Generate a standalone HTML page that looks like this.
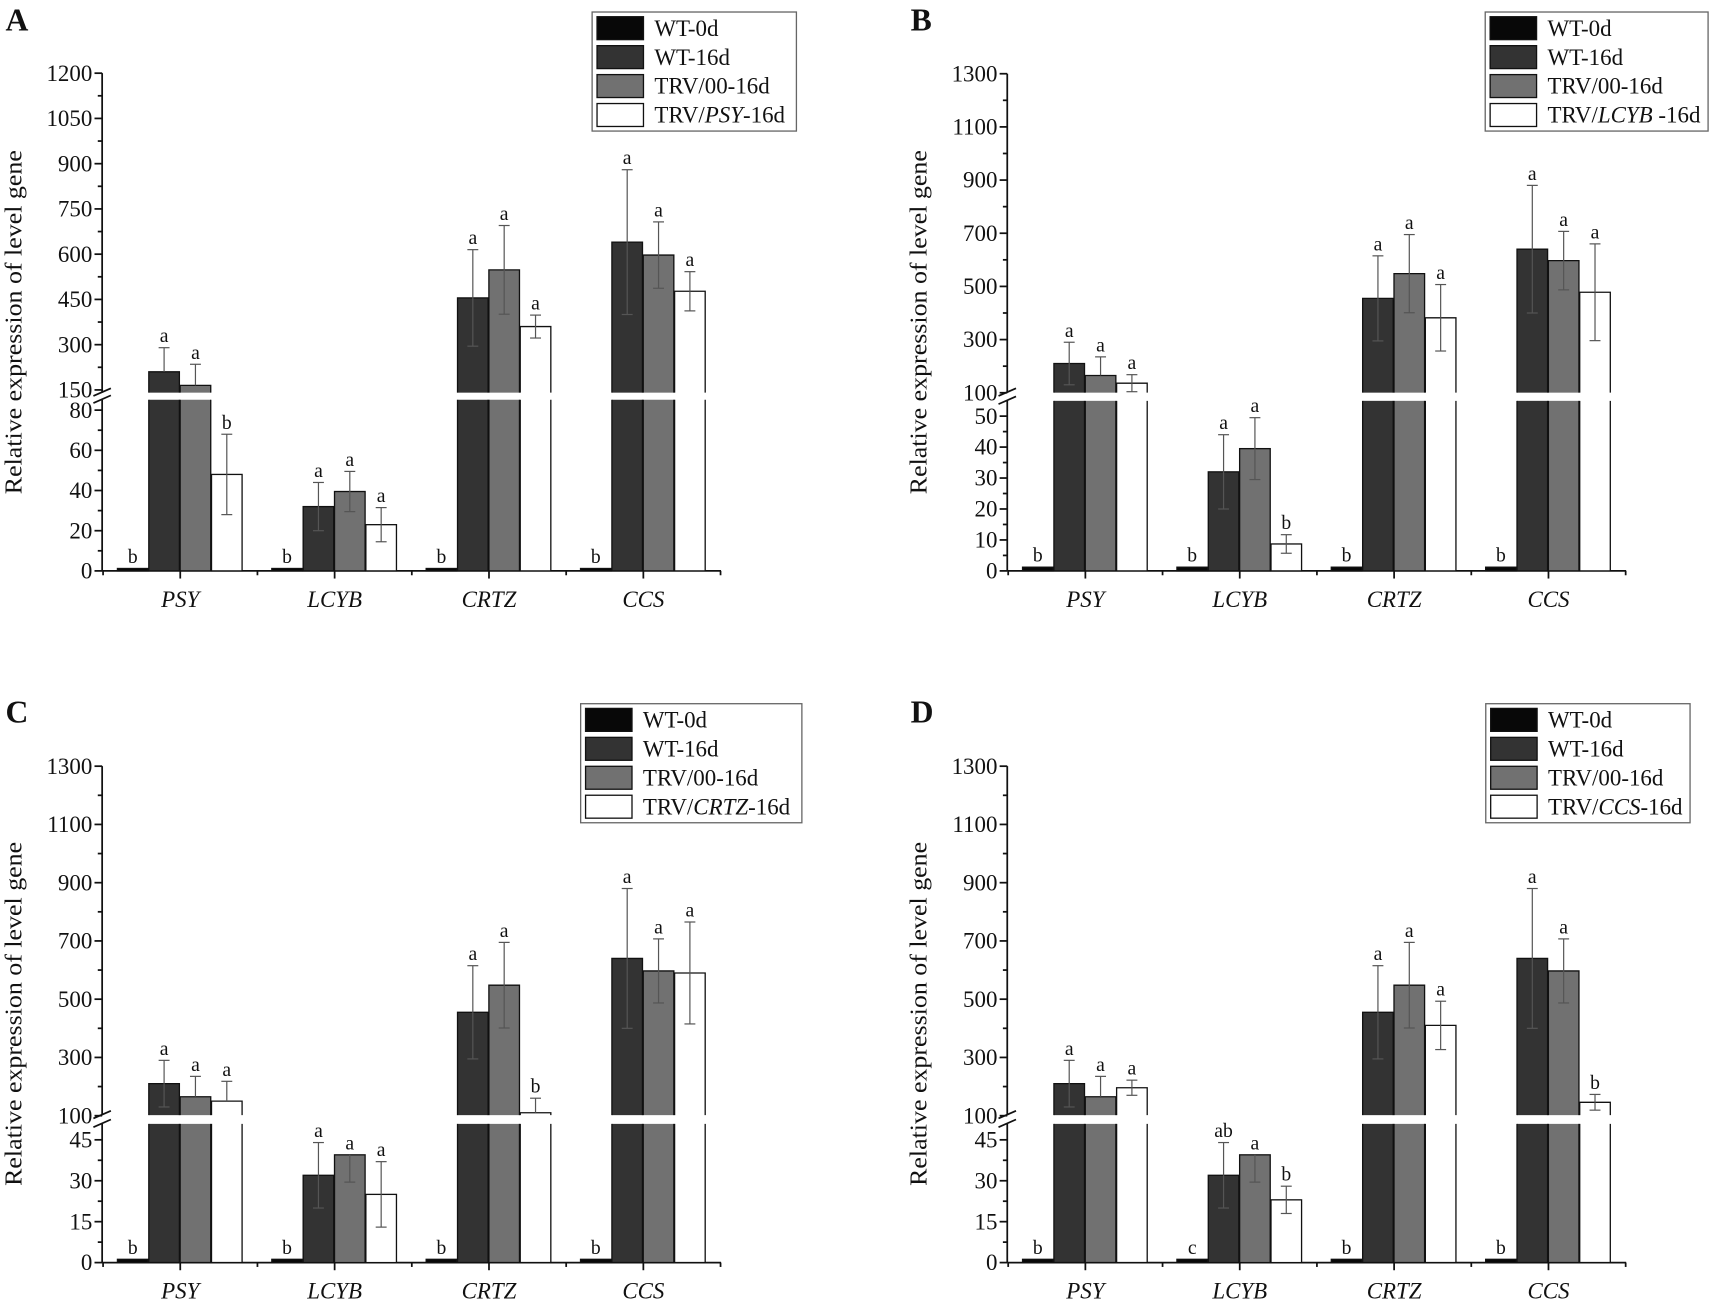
<!DOCTYPE html>
<html><head><meta charset="utf-8"><style>
html,body{margin:0;padding:0;background:#fff;}
svg{display:block;}
text{font-family:"Liberation Serif",serif;fill:#111;}
</style></head>
<body>
<svg id="fig" xmlns="http://www.w3.org/2000/svg" width="1713" height="1303" viewBox="0 0 1568 1193" preserveAspectRatio="none"></svg>
<script>
const genes = ['PSY','LCYB','CRTZ','CCS'];
const seriesNames = ['WT-0d','WT-16d','TRV/00-16d'];
const wt0 = [1.2,1.2,1.2,1.2];
const wt0Err = [0,0,0,0];
const wt16 = [210,32,455,640];
const wt16Err = [80,12,160,240];
const trv00 = [165,39.5,548,597];
const trv00Err = [70,10,147,110];
const silA = [48,23,360,477];
const silAErr = [20,8.5,38,65];
const silB = [136,8.7,382,478];
const silBErr = [32,3,125,182];
const silC = [150,25,110,590];
const silCErr = [68,12,50,175];
const silD = [196,23,410,146];
const silDErr = [26,5,83,27];
const lettersWt0A = ['b','b','b','b'];
const lettersWt0D = ['b','c','b','b'];
const lettersWt16 = ['a','a','a','a'];
const lettersWt16D = ['a','ab','a','a'];
const lettersTrv = ['a','a','a','a'];
const lettersSilA = ['b','a','a','a'];
const lettersSilB = ['a','b','a','a'];
const lettersSilC = ['a','a','b','a'];
const lettersSilD = ['a','b','a','b'];
const upperTicksA = [150,300,450,600,750,900,1050,1200];
const lowerTicksA = [0,20,40,60,80];
const upperTicksB = [100,300,500,700,900,1100,1300];
const lowerTicksB = [0,10,20,30,40,50];
const lowerTicksCD = [0,15,30,45];

const NS='http://www.w3.org/2000/svg';
const svg=document.getElementById('fig');
function mk(tag,attrs,parent){const e=document.createElementNS(NS,tag);for(const k in attrs)e.setAttribute(k,attrs[k]);(parent||svg).appendChild(e);return e;}

const fills=['#080808','#333333','#717171','#ffffff'];

function panel(cfg){
  const g=mk('g',{transform:`translate(${cfg.ox},${cfg.oy})`});
  
  
  const ax=93.5, base=522.7, xEnd=ax+566.5;
  const U=cfg.upper, L=cfg.lower;
  const yU=v=>U.p0+(v-U.v0)*(U.p1-U.p0)/(U.v1-U.v0);
  const yL=v=>base+(v)*(L.p1-base)/L.v1;
  const pl=mk('text',{x:5,y:28,'font-size':29,'font-weight':'bold'},g);pl.textContent=cfg.id;
  
  
  const yt=mk('text',{x:0,y:0,'font-size':22,'text-anchor':'middle',textLength:315,lengthAdjust:'spacingAndGlyphs',transform:`translate(${ax-74},295) rotate(-90)`},g);
  yt.textContent='Relative expression of level gene';
  
  
  const axisG=mk('g',{stroke:'#111','stroke-width':1.6,fill:'none'},g);
  
  
  mk('line',{x1:ax,y1:yU(U.ticks[U.ticks.length-1]),x2:ax,y2:U.bottom},axisG);
  mk('line',{x1:ax,y1:base,x2:ax,y2:L.top},axisG);
  mk('line',{x1:ax,y1:base,x2:xEnd,y2:base},axisG);
  mk('line',{x1:ax-8,y1:U.bottom+3,x2:ax+8,y2:U.bottom-4},axisG);
  mk('line',{x1:ax-8,y1:L.top+3,x2:ax+8,y2:L.top-4},axisG);
  const tickSet=(ticks,yf,minStep,top)=>{
    ticks.forEach((t,i)=>{
      const y=yf(t);
      mk('line',{x1:ax-7,y1:y,x2:ax,y2:y},axisG);
      const tl=mk('text',{x:ax-9,y:y+7,'font-size':21,'text-anchor':'end',stroke:'none'},g);
      tl.textContent=t;
      
      
      const ym=yf(t+minStep); if(ym>top) mk('line',{x1:ax-4,y1:ym,x2:ax,y2:ym},axisG);
    });
  };
  const uStep=U.ticks[1]-U.ticks[0];
  tickSet(U.ticks,yU,uStep/2,yU(U.ticks[U.ticks.length-1])-1);
  const lStep=L.ticks[1]-L.ticks[0];
  tickSet(L.ticks,yL,lStep/2,L.top);
  const gap=141.3, c0=ax+71.5;
  genes.forEach((gn,gi)=>{
    const c=c0+gi*gap;
    mk('line',{x1:c,y1:base,x2:c,y2:base+7},axisG);
    mk('line',{x1:c+gap/2,y1:base,x2:c+gap/2,y2:base+4},axisG);
    const xl=mk('text',{x:c,y:base+33,'font-size':21,'font-style':'italic','text-anchor':'middle'},g);
    xl.textContent=gn;
    
    
  });
  mk('line',{x1:c0-gap/2,y1:base,x2:c0-gap/2,y2:base+4},axisG);
  const series=[[wt0,wt0Err,cfg.l0],[wt16,wt16Err,cfg.l16],[trv00,trv00Err,lettersTrv],[cfg.sil,cfg.silErr,cfg.lSil]];
  const barsG=mk('g',{},g);
  
  
  series.forEach((s,si)=>{
    const [vals,errs,lets]=s;
    vals.forEach((v,gi)=>{
      const x=c0+gi*gap-57.5+si*28.7, w=28;
      const broken = yL(v)<L.top;
      const lowTopY=Math.max(yL(v),L.top);
      if(!broken){
        const r=mk('rect',{x:x,y:lowTopY,width:w,height:base-lowTopY,fill:fills[si],stroke:'#111','stroke-width':1.2},barsG);
        
        
      } else {
        const r=mk('rect',{x:x,y:lowTopY,width:w,height:base-lowTopY,fill:fills[si]},barsG);
        
        
        mk('path',{d:`M${x},${lowTopY}V${base}H${x+w}V${lowTopY}`,fill:'none',stroke:'#111','stroke-width':1.2},barsG);
      }
      let topY=lowTopY;
      if(yU(v)<U.bottom){
        topY=yU(v);
        const r2=mk('rect',{x:x,y:topY,width:w,height:U.bottom-topY,fill:fills[si]},barsG);
        
        
        mk('path',{d:`M${x},${U.bottom}V${topY}H${x+w}V${U.bottom}`,fill:'none',stroke:'#111','stroke-width':1.2},barsG);
      }
      const e=errs[gi];
      const yOf=val=>{ if(val<=L.v1 && yL(val)>=L.top) return yL(val); const yu=yU(val); if(yu<U.bottom) return yu; return null; };
      let capTop=topY;
      if(e>0){
        const cx=x+w/2, yt=yOf(v+e), yb=yOf(v-e);
        const eg=mk('g',{stroke:'#555','stroke-width':1.1},barsG);
        
        
        if(yt!==null){mk('line',{x1:cx,y1:topY,x2:cx,y2:yt},eg);mk('line',{x1:cx-5,y1:yt,x2:cx+5,y2:yt},eg);capTop=yt;}
        if(yb!==null){
          const inUpper = yU(v)<U.bottom;
          const ybShow = (inUpper && yU(v-e)>=U.bottom)? null : yb;
          if(ybShow!==null){mk('line',{x1:cx,y1:topY,x2:cx,y2:ybShow},eg);mk('line',{x1:cx-5,y1:ybShow,x2:cx+5,y2:ybShow},eg);}
          else mk('line',{x1:cx,y1:topY,x2:cx,y2:U.bottom},eg);
        }
      }
      const lt=mk('text',{x:x+w/2,y:capTop-5,'font-size':18,'text-anchor':'middle'},barsG);
      lt.textContent=lets[gi];
      
      
    });
  });
  const lg=mk('g',{transform:`translate(${cfg.lx},${cfg.ly})`},g);
  
  
  mk('rect',{x:0,y:0,width:cfg.lw,height:109,fill:'#fff',stroke:'#666','stroke-width':1.2},lg);
  const names=seriesNames.concat([null]);
  names.forEach((n,i)=>{
    const cy=14.8+i*26.5;
    const sw=mk('rect',{x:4.5,y:cy-10.5,width:42.5,height:21,fill:fills[i],stroke:'#111','stroke-width':1.2},lg);
    
    
    const t=mk('text',{x:57,y:cy+7,'font-size':21},lg);
    
    
    if(n){t.textContent=n;}
    else{
      const a=mk('tspan',{},t);a.textContent='TRV/';
      const b=mk('tspan',{'font-style':'italic'},t);b.textContent=cfg.gene;
      const c=mk('tspan',{},t);c.textContent=cfg.gap?' -16d':'-16d';
    }
  });
}

panel({id:'A',ox:0,oy:0,gene:'PSY',sil:silA,silErr:silAErr,lSil:lettersSilA,l0:lettersWt0A,l16:lettersWt16,
  upper:{v0:150,p0:357,v1:1200,p1:67,bottom:359.5,ticks:upperTicksA},
  lower:{v1:80,p1:375.5,top:366,ticks:lowerTicksA},lx:542,ly:11,lw:187});
panel({id:'B',ox:828.5,oy:0,gene:'LCYB',gap:true,sil:silB,silErr:silBErr,lSil:lettersSilB,l0:lettersWt0A,l16:lettersWt16,
  upper:{v0:100,p0:359.6,v1:1300,p1:67.5,bottom:359.5,ticks:upperTicksB},
  lower:{v1:50,p1:381,top:367,ticks:lowerTicksB},lx:531,ly:11,lw:204});
panel({id:'C',ox:0,oy:633.3,gene:'CRTZ',sil:silC,silErr:silCErr,lSil:lettersSilC,l0:lettersWt0A,l16:lettersWt16,
  upper:{v0:100,p0:388.2,v1:1300,p1:68.2,bottom:387.7,ticks:upperTicksB},
  lower:{v1:45,p1:410.3,top:395.7,ticks:lowerTicksCD},lx:531.5,ly:11,lw:202.5});
panel({id:'D',ox:828.5,oy:633.3,gene:'CCS',sil:silD,silErr:silDErr,lSil:lettersSilD,l0:lettersWt0D,l16:lettersWt16D,
  upper:{v0:100,p0:388.2,v1:1300,p1:68.2,bottom:387.7,ticks:upperTicksB},
  lower:{v1:45,p1:410.3,top:395.7,ticks:lowerTicksCD},lx:531.5,ly:11,lw:187});
</script>
</body></html>
